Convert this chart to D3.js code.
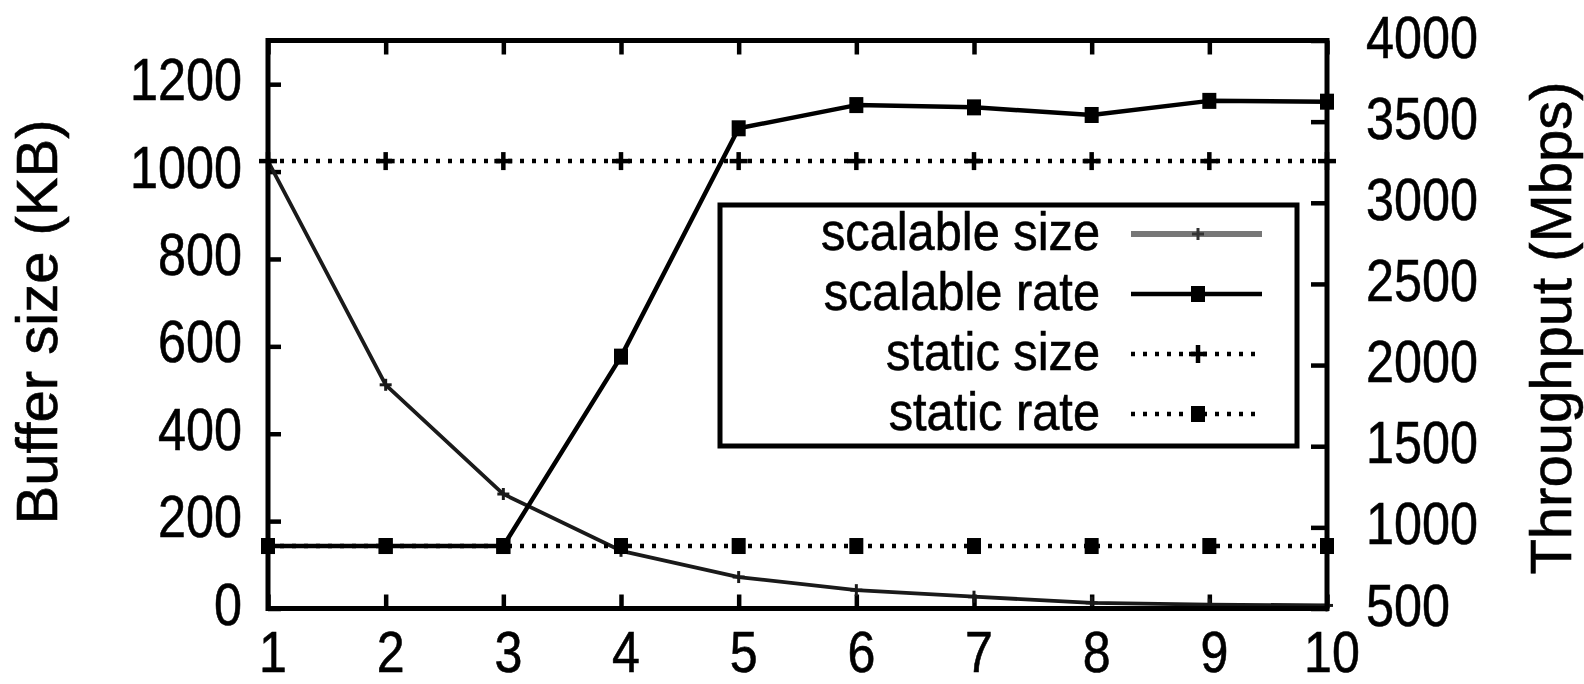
<!DOCTYPE html>
<html>
<head>
<meta charset="utf-8">
<script src="https://cdn.jsdelivr.net/npm/d3@7"></script>
<style>
  html, body { margin: 0; padding: 0; background: #fff; }
  svg { display: block; }
  text { font-family: "Liberation Sans", Arial, Helvetica, sans-serif; fill: #000; }
</style>
</head>
<body>
<svg id="chart" width="1584" height="684"></svg>
<script>
// Number of threads on the x axis
const threads = [1, 2, 3, 4, 5, 6, 7, 8, 9, 10];

// Buffer size (KB), left axis
const scalableSize = [1024, 512, 262, 132, 72, 42, 27, 13, 9, 7];
const staticSize   = [1024, 1024, 1024, 1024, 1024, 1024, 1024, 1024, 1024, 1024];

// Throughput (Mbps), right axis
const scalableRate = [885, 885, 885, 2052, 3459, 3602, 3588, 3541, 3628, 3623];
const staticRate   = [885, 885, 885, 885, 885, 885, 885, 885, 885, 885];

// Tick labels
const xTicks = [1, 2, 3, 4, 5, 6, 7, 8, 9, 10];
const leftTicks = [0, 200, 400, 600, 800, 1000, 1200];
const rightTicks = [500, 1000, 1500, 2000, 2500, 3000, 3500, 4000];

const legendLabels = ["scalable size", "scalable rate", "static size", "static rate"];

const svg = d3.select("#chart");

const plot = { left: 268, right: 1327, top: 40.5, bottom: 608.5 };

const x = d3.scaleLinear().domain([1, 10]).range([plot.left, plot.right]);
const yL = d3.scaleLinear().domain([0, 1300]).range([plot.bottom, plot.top]);
const yR = d3.scaleLinear().domain([500, 4000]).range([plot.bottom, plot.top]);

const SX = 0.84;   // horizontal squeeze of the label font
const FS = 60;

// ---- tick marks (pointing into the plot) ----
function styleAxis(g) {
  g.select(".domain").remove();
  g.selectAll(".tick line").attr("stroke", "#000").attr("stroke-width", 4.5);
  g.selectAll(".tick text").remove();
}
svg.append("g").attr("transform", `translate(0,${plot.bottom})`)
  .call(d3.axisBottom(x).tickValues(xTicks).tickSize(-14).tickFormat(""))
  .call(styleAxis);
svg.append("g").attr("transform", `translate(0,${plot.top})`)
  .call(d3.axisTop(x).tickValues(xTicks).tickSize(-14).tickFormat(""))
  .call(styleAxis);
svg.append("g").attr("transform", `translate(${plot.left},0)`)
  .call(d3.axisLeft(yL).tickValues(leftTicks).tickSize(-13).tickFormat(""))
  .call(styleAxis);
svg.append("g").attr("transform", `translate(${plot.right},0)`)
  .call(d3.axisRight(yR).tickValues(rightTicks).tickSize(-16).tickFormat(""))
  .call(styleAxis);

// ---- tick labels ----
function label(txt, px, py, anchor, fs, sx) {
  svg.append("text")
    .attr("transform", `translate(${px},${py}) scale(${sx},1)`)
    .attr("text-anchor", anchor)
    .attr("font-size", fs)
    .attr("stroke", "#000").attr("stroke-width", 0.6)
    .text(txt);
}
xTicks.forEach(t => label(String(t), x(t) + 5, 672, "middle", 57, 0.88));
leftTicks.forEach(t => label(String(t), 242, yL(t) + 16, "end", FS, SX));
rightTicks.forEach(t => label(String(t), 1366, yR(t) + 17, "start", FS, SX));

// ---- axis titles ----
svg.append("text")
  .attr("transform", `translate(57,${322}) rotate(-90)`)
  .attr("text-anchor", "middle")
  .attr("font-size", 58)
  .attr("stroke", "#000").attr("stroke-width", 0.6)
  .text("Buffer size (KB)");
svg.append("text")
  .attr("transform", `translate(1571,${328}) rotate(-90)`)
  .attr("text-anchor", "middle")
  .attr("font-size", 58)
  .attr("stroke", "#000").attr("stroke-width", 0.6)
  .text("Throughput (Mbps)");

// ---- series ----
const series = [
  { name: legendLabels[0], vals: scalableSize, y: yL, color: "#1a1a1a", width: 3.8, dash: null, marker: "smallplus" },
  { name: legendLabels[1], vals: scalableRate, y: yR, color: "#000", width: 4.5, dash: null, marker: "square" },
  { name: legendLabels[2], vals: staticSize, y: yL, color: "#000", width: 4.5, dash: "4,8", marker: "plus" },
  { name: legendLabels[3], vals: staticRate, y: yR, color: "#000", width: 4.5, dash: "4,8", marker: "square" }
];

function drawMarker(g, kind, cx, cy, color) {
  if (kind === "square") {
    g.append("rect").attr("x", cx - 7).attr("y", cy - 8)
      .attr("width", 14).attr("height", 16).attr("fill", color);
  } else if (kind === "plus" || kind === "smallplus") {
    const h = kind === "plus" ? 9 : 6;
    const w = kind === "plus" ? 4.5 : 3;
    g.append("line").attr("x1", cx - h).attr("x2", cx + h).attr("y1", cy).attr("y2", cy)
      .attr("stroke", color).attr("stroke-width", w);
    g.append("line").attr("x1", cx).attr("x2", cx).attr("y1", cy - h).attr("y2", cy + h)
      .attr("stroke", color).attr("stroke-width", w);
  }
}

series.forEach(s => {
  const line = d3.line().x((d, i) => x(threads[i])).y(d => s.y(d));
  const g = svg.append("g");
  g.append("path").datum(s.vals)
    .attr("d", line)
    .attr("fill", "none")
    .attr("stroke", s.color)
    .attr("stroke-width", s.width)
    .attr("stroke-linejoin", "round")
    .attr("stroke-dasharray", s.dash);
  s.vals.forEach((v, i) => drawMarker(g, s.marker, x(threads[i]), s.y(v), s.color));
});

// ---- plot border ----
svg.append("rect")
  .attr("x", plot.left).attr("y", plot.top)
  .attr("width", plot.right - plot.left).attr("height", plot.bottom - plot.top)
  .attr("fill", "none").attr("stroke", "#000").attr("stroke-width", 5);

// ---- legend ----
const lg = svg.append("g");
lg.append("rect")
  .attr("x", 720).attr("y", 205).attr("width", 577).attr("height", 241)
  .attr("fill", "#fff").attr("stroke", "#000").attr("stroke-width", 5);
series.forEach((s, i) => {
  const cy = 234 + i * 60;
  lg.append("text")
    .attr("transform", `translate(1100,${cy + 16}) scale(0.92,1)`)
    .attr("text-anchor", "end")
    .attr("font-size", 53)
    .attr("stroke", "#000").attr("stroke-width", 0.6)
    .text(s.name);
  lg.append("line")
    .attr("x1", 1131).attr("x2", 1262).attr("y1", cy).attr("y2", cy)
    .attr("stroke", i === 0 ? "#777" : s.color)
    .attr("stroke-width", i === 0 ? 6 : s.width)
    .attr("stroke-dasharray", s.dash);
  drawMarker(lg, s.marker, 1198, cy, i === 0 ? "#333" : s.color);
});
</script>
</body>
</html>
